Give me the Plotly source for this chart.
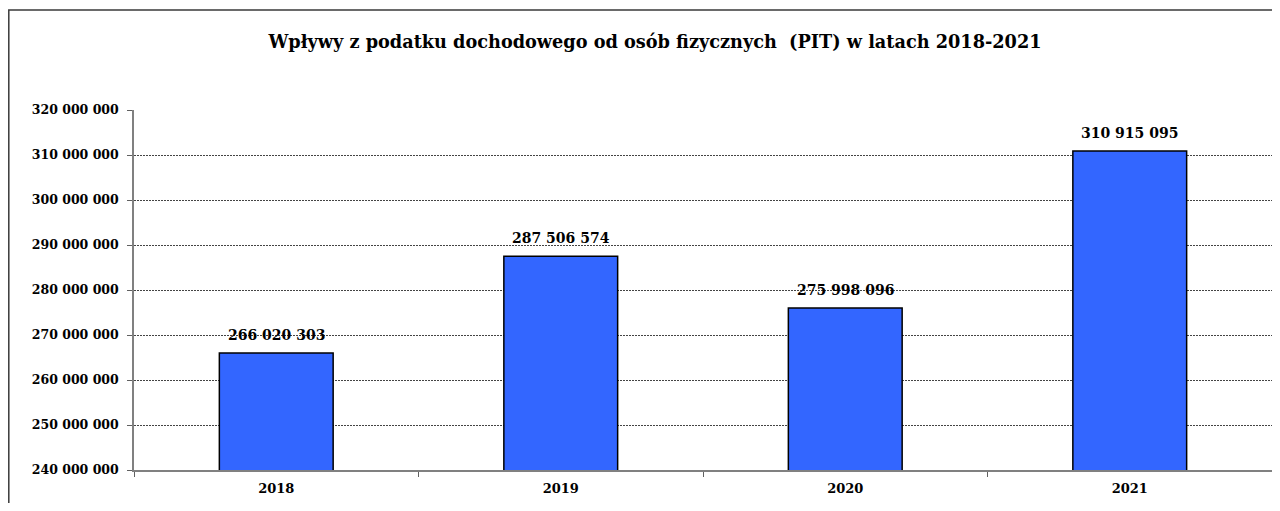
import plotly.graph_objects as go

years = ["2018", "2019", "2020", "2021"]
values = [266020303, 287506574, 275998096, 310915095]
title_text = "Wpływy z podatku dochodowego od osób fizycznych  (PIT) w latach 2018-2021"

# page has an 8px body margin: figure pixel = page pixel - 8; keep page free of scrollbars
OFF = 8
W, H = 1280 - 2 * OFF, 511 - 2 * OFF
left, right, top, bottom = 134 - OFF, 1272 - OFF, 110 - OFF, 470 - OFF
ml, mr, mt, mb = left, W - right, top, H - bottom
pw, ph = right - left, bottom - top

FONT = "DejaVu Serif"

fig = go.Figure(go.Bar(
    x=years, y=values,
    width=0.4,
    marker=dict(color="#3366FF", line=dict(color="#000000", width=1.5)),
    hoverinfo="x+y",
))

for i, v in enumerate(values):
    fig.add_annotation(x=i, y=v, xref="x", yref="y",
                       text=f"{v:,}".replace(",", " "),
                       showarrow=False, yanchor="bottom", yshift=8,
                       font=dict(family=FONT, size=14, color="#000000", weight="bold"))

def px_x(p):
    return (p - OFF - left) / pw

def px_y(p):
    return (bottom - (p - OFF)) / ph

fig.add_shape(type="rect", xref="paper", yref="paper",
              x0=px_x(8.8), x1=px_x(1300), y0=px_y(530), y1=px_y(10),
              line=dict(color="#3a3a3a", width=1.5), layer="below")

fig.update_layout(
    width=W, height=H,
    margin=dict(l=ml, r=mr, t=mt, b=mb, autoexpand=False),
    paper_bgcolor="white", plot_bgcolor="white",
    separators=", ",
    showlegend=False,
    title=dict(text=title_text, xref="container", x=(655 - OFF) / W, xanchor="center",
               yref="container", y=1 - (42 - OFF) / H, yanchor="middle",
               font=dict(family=FONT, size=17.7, color="#000000", weight="bold")),
    bargap=0.6,
)
fig.update_xaxes(
    type="category", range=[-0.5, len(years) - 0.5], automargin=False,
    showline=True, linecolor="#808080", linewidth=1.5,
    ticks="outside", tickson="boundaries", ticklen=5, tickcolor="#606060", tickwidth=1,
    tickfont=dict(family=FONT, size=13, color="#000000", weight="bold"),
    tickangle=0, ticklabelstandoff=6,
    showgrid=False,
)
fig.update_yaxes(
    range=[240000000, 320000000], automargin=False,
    dtick=10000000, tick0=240000000,
    tickformat=",d",
    showline=True, linecolor="#808080", linewidth=1.5,
    ticks="outside", ticklen=5, tickcolor="#606060", tickwidth=1,
    tickfont=dict(family=FONT, size=12.5, color="#000000", weight="bold"),
    ticklabelstandoff=6,
    showgrid=True, gridcolor="#444444", gridwidth=0.8, griddash="2px,1px",
    zeroline=False,
)

fig.write_html("out.html")
